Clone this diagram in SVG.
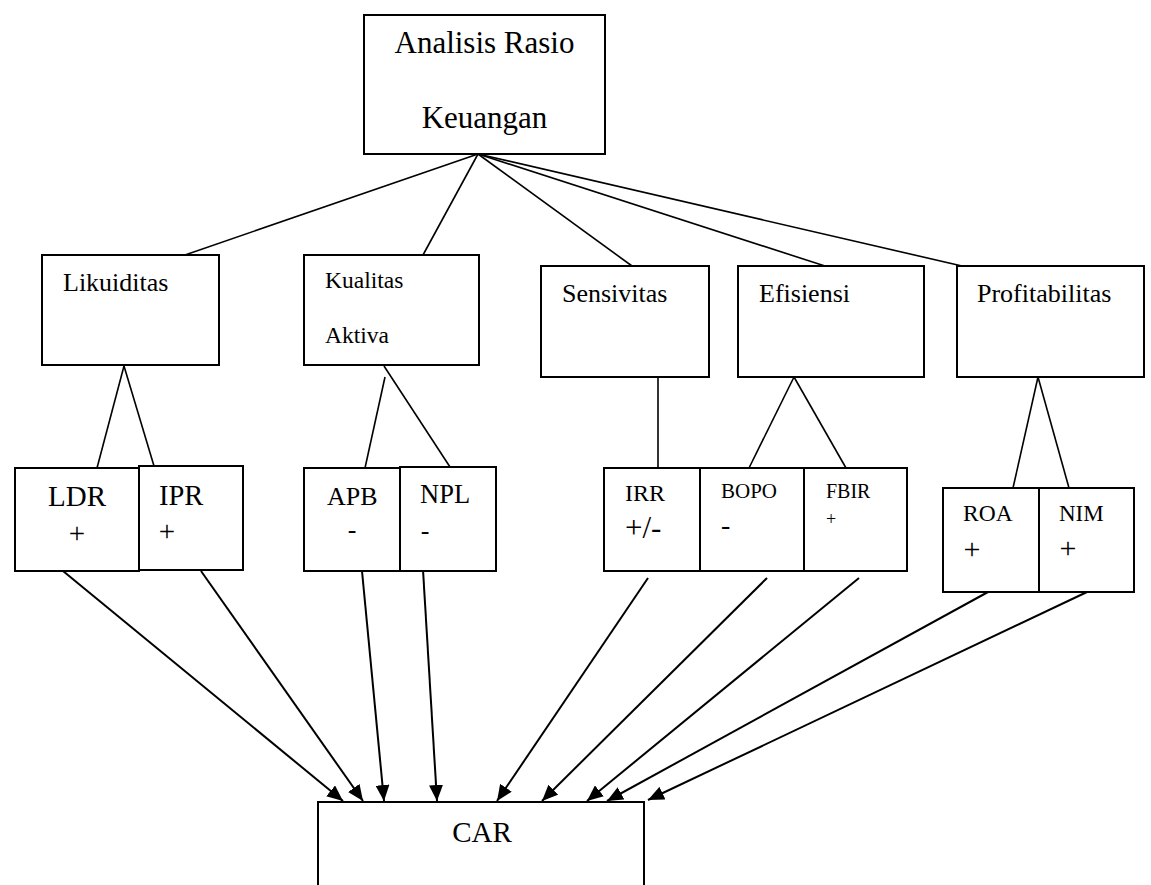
<svg xmlns="http://www.w3.org/2000/svg" width="1151" height="885" viewBox="0 0 1151 885">
<style>
.box{fill:#fff;stroke:#000;stroke-width:2}
.ln{stroke:#000;stroke-width:1.6;fill:none}
.ar{stroke:#000;stroke-width:2;fill:none;marker-end:url(#ah)}
text{font-family:"Liberation Serif","Times New Roman",serif;fill:#000}
</style>
<defs>
<marker id="ah" markerUnits="userSpaceOnUse" markerWidth="17" markerHeight="14" refX="16" refY="7" orient="auto">
<path d="M0,0 L16,7 L0,14 z" fill="#000"/>
</marker>
</defs>
<rect width="1151" height="885" fill="#fff"/>
<g id="connectors">
<line class="ln" x1="478" y1="154" x2="185" y2="255"/>
<line class="ln" x1="478" y1="154" x2="423" y2="255"/>
<line class="ln" x1="478" y1="154" x2="632" y2="266"/>
<line class="ln" x1="478" y1="154" x2="825" y2="266"/>
<line class="ln" x1="478" y1="154" x2="962" y2="266"/>
<line class="ln" x1="124" y1="366" x2="97" y2="468"/>
<line class="ln" x1="124" y1="366" x2="154" y2="466"/>
<line class="ln" x1="385" y1="377" x2="365" y2="468"/>
<line class="ln" x1="384" y1="366" x2="450" y2="467"/>
<line class="ln" x1="658" y1="376" x2="658" y2="468"/>
<line class="ln" x1="794" y1="377" x2="749" y2="468"/>
<line class="ln" x1="794" y1="377" x2="846" y2="468"/>
<line class="ln" x1="1038" y1="377" x2="1013" y2="488"/>
<line class="ln" x1="1038" y1="377" x2="1069" y2="488"/>
<line class="ar" x1="63" y1="571" x2="343" y2="801"/>
<line class="ar" x1="201" y1="571" x2="363" y2="801"/>
<line class="ar" x1="362" y1="571" x2="384" y2="801"/>
<line class="ar" x1="423" y1="570" x2="437" y2="801"/>
<line class="ar" x1="648" y1="578" x2="497" y2="801"/>
<line class="ar" x1="767" y1="578" x2="542" y2="801"/>
<line class="ar" x1="859" y1="578" x2="587" y2="801"/>
<line class="ar" x1="988" y1="592" x2="607" y2="801"/>
<line class="ar" x1="1087" y1="592" x2="648" y2="800"/>
</g>
<g id="analisis">
<rect class="box" x="364" y="15" width="241" height="139"/>
<text x="484.5" y="53" font-size="31" text-anchor="middle">Analisis Rasio</text>
<text x="484.5" y="128" font-size="31" text-anchor="middle">Keuangan</text>
</g>
<g id="likuiditas">
<rect class="box" x="42" y="255" width="177" height="110"/>
<text x="63" y="291" font-size="26">Likuiditas</text>
</g>
<g id="kualitas">
<rect class="box" x="304" y="255" width="175" height="110"/>
<text x="325" y="288" font-size="23.5">Kualitas</text>
<text x="325" y="343" font-size="23.5">Aktiva</text>
</g>
<g id="sensivitas">
<rect class="box" x="541" y="266" width="168" height="111"/>
<text x="562" y="302" font-size="26">Sensivitas</text>
</g>
<g id="efisiensi">
<rect class="box" x="738" y="266" width="186" height="111"/>
<text x="759" y="302" font-size="26">Efisiensi</text>
</g>
<g id="profitabilitas">
<rect class="box" x="957" y="266" width="187" height="111"/>
<text x="977" y="302" font-size="26">Profitabilitas</text>
</g>
<g id="ldr">
<rect class="box" x="15" y="468" width="124" height="103"/>
<text x="48" y="506" font-size="29">LDR</text>
<text x="77" y="543" font-size="29" text-anchor="middle">+</text>
</g>
<g id="ipr">
<rect class="box" x="139" y="466" width="104" height="104"/>
<text x="159" y="505" font-size="28.5">IPR</text>
<text x="167" y="541" font-size="29" text-anchor="middle">+</text>
</g>
<g id="apb">
<rect class="box" x="304" y="468" width="96" height="103"/>
<text x="327" y="505" font-size="26">APB</text>
<text x="352" y="538" font-size="26" text-anchor="middle">-</text>
</g>
<g id="npl">
<rect class="box" x="400" y="467" width="96" height="104"/>
<text x="420" y="503" font-size="26.5">NPL</text>
<text x="425" y="539" font-size="26" text-anchor="middle">-</text>
</g>
<g id="irr">
<rect class="box" x="604" y="468" width="96" height="103"/>
<text x="625" y="501" font-size="24">IRR</text>
<text x="625" y="538" font-size="31">+/-</text>
</g>
<g id="bopo">
<rect class="box" x="700" y="468" width="104" height="103"/>
<text x="721" y="498" font-size="21">BOPO</text>
<text x="721" y="534" font-size="28">-</text>
</g>
<g id="fbir">
<rect class="box" x="804" y="468" width="103" height="103"/>
<text x="826" y="498" font-size="20">FBIR</text>
<text x="831" y="525" font-size="18" text-anchor="middle">+</text>
</g>
<g id="roa">
<rect class="box" x="943" y="488" width="96" height="104"/>
<text x="963" y="521" font-size="23.5">ROA</text>
<text x="972" y="559" font-size="30" text-anchor="middle">+</text>
</g>
<g id="nim">
<rect class="box" x="1039" y="488" width="95" height="104"/>
<text x="1059" y="521" font-size="23">NIM</text>
<text x="1068" y="558" font-size="30" text-anchor="middle">+</text>
</g>
<g id="car">
<rect class="box" x="318" y="802" width="326" height="100"/>
<text x="482" y="842" font-size="29" text-anchor="middle">CAR</text>
</g>
</svg>
